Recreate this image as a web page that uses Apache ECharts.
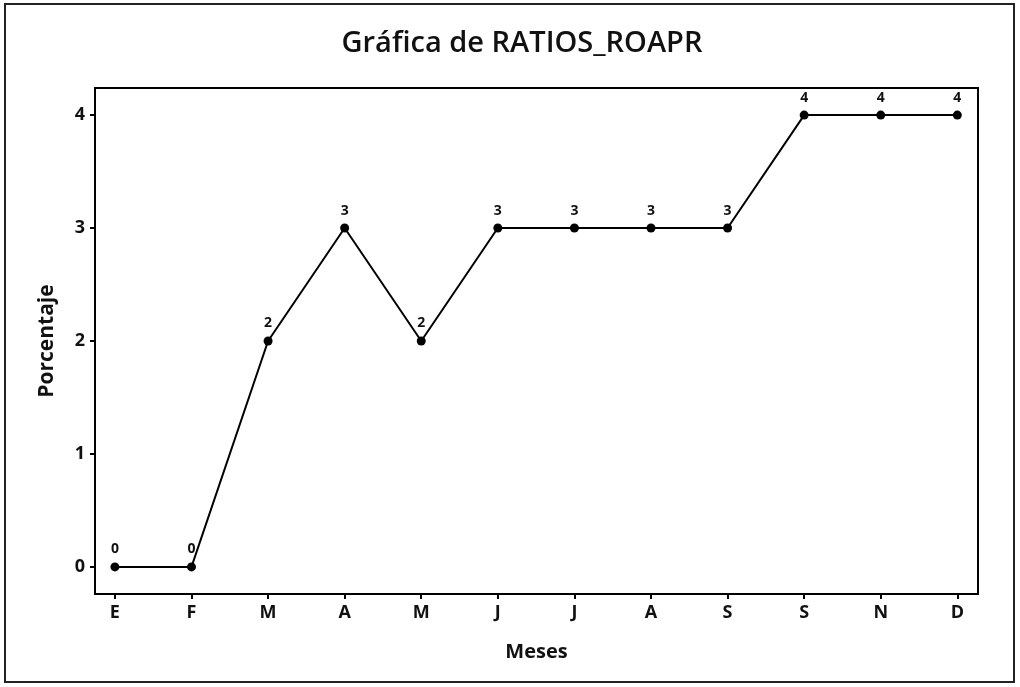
<!DOCTYPE html>
<html>
<head>
<meta charset="utf-8">
<script src="https://cdn.jsdelivr.net/npm/echarts@6/dist/echarts.min.js"></script>
<style>
  html, body { margin: 0; padding: 0; background: #fff; }
  #ch1 { width: 1020px; height: 687px; }
</style>
</head>
<body>
<div id="ch1"></div>
<script>
var meses = ['E', 'F', 'M', 'A', 'M', 'J', 'J', 'A', 'S', 'S', 'N', 'D'];
var ratios = [0, 0, 2, 3, 2, 3, 3, 3, 3, 4, 4, 4];
var yTicks = [0, 1, 2, 3, 4];

window.onload = function() {
  var ch1 = echarts.init(document.getElementById('ch1'));
  var font = '"Open Sans", "DejaVu Sans", sans-serif';
  var xTicks = meses.map(function(m, i) { return i; });
  var op1 = {
    animation: false,
    backgroundColor: '#fff',
    title: {
      text: 'Gráfica de RATIOS_ROAPR',
      left: 517,
      top: 24,
      textAlign: 'center',
      textStyle: {
        fontFamily: font,
        fontSize: 29,
        fontWeight: 600,
        color: '#111'
      }
    },
    grid: {
      left: 95,
      right: 42,
      top: 88,
      bottom: 93,
      show: true,
      borderColor: '#000',
      borderWidth: 2,
      containLabel: false
    },
    graphic: [{
      type: 'rect',
      shape: { x: 5, y: 4, width: 1009, height: 678 },
      style: { fill: 'none', stroke: '#222', lineWidth: 2 },
      silent: true
    }],
    xAxis: {
      type: 'value',
      min: -0.26,
      max: 11.27,
      name: 'Meses',
      nameLocation: 'middle',
      nameGap: 48,
      nameTextStyle: { fontFamily: font, fontSize: 20, fontWeight: 'bold', color: '#111' },
      splitLine: { show: false },
      axisLine: { show: true, onZero: false, lineStyle: { color: '#000', width: 2 } },
      axisTick: { show: true, customValues: xTicks, length: 5, lineStyle: { color: '#000', width: 2 } },
      axisLabel: {
        customValues: xTicks,
        margin: 10,
        fontFamily: font,
        fontSize: 18,
        fontWeight: 'bold',
        color: '#111',
        formatter: function(v) { return meses[Math.round(v)]; }
      }
    },
    yAxis: {
      type: 'value',
      min: -0.24,
      max: 4.24,
      name: 'Porcentaje',
      nameLocation: 'middle',
      nameGap: 37,
      nameTextStyle: { fontFamily: font, fontSize: 21, fontWeight: 'bold', color: '#111' },
      splitLine: { show: false },
      axisLine: { show: true, onZero: false, lineStyle: { color: '#000', width: 2 } },
      axisTick: { show: true, customValues: yTicks, length: 5, lineStyle: { color: '#000', width: 2 } },
      axisLabel: {
        customValues: yTicks,
        margin: 10,
        fontFamily: font,
        fontSize: 18,
        fontWeight: 'bold',
        color: '#111'
      }
    },
    series: [{
      name: 'RATIOS_ROAPR',
      type: 'line',
      data: ratios.map(function(v, i) { return [i, v]; }),
      symbol: 'circle',
      symbolSize: 9,
      lineStyle: { color: '#000', width: 2 },
      itemStyle: { color: '#000' },
      label: {
        show: true,
        position: 'top',
        distance: 6,
        fontFamily: font,
        fontSize: 14,
        fontWeight: 'bold',
        color: '#111',
        formatter: function(p) { return p.value[1]; }
      }
    }]
  };
  ch1.setOption(op1);
};
</script>
</body>
</html>
